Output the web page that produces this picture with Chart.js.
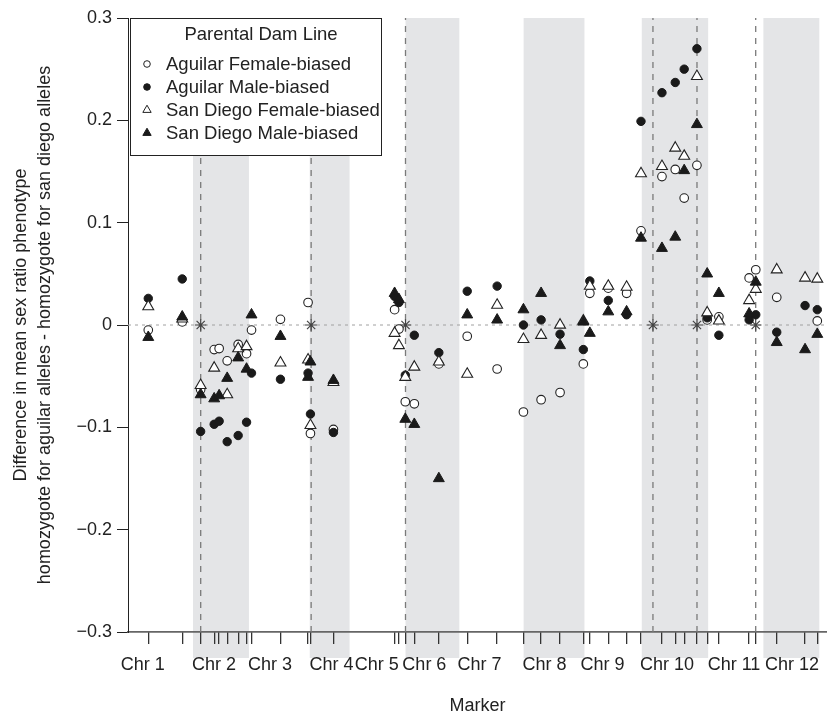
<!DOCTYPE html>
<html lang="en">
  <head>
    <meta charset="UTF-8" />
    <title>Sex ratio phenotype by marker</title>
    <script src="https://cdn.jsdelivr.net/npm/chart.js"></script>
    <style>
      body {
        margin: 0;
        padding: 0;
        background: #fff;
      }
      #chart {
        display: block;
      }
    </style>
  </head>
  <body>
    <canvas id="chart" width="827" height="717"></canvas>

    <script>
      // marker positions along the genome (map units, 0-100)
      const markerPos = [
        2.9, 7.76, 10.39, 12.33, 13.04, 14.19, 15.76, 16.96, 17.67, 21.81,
        25.76, 26.1, 29.39, 38.14, 38.76, 39.67, 40.96, 44.47, 48.53, 52.81,
        56.57, 59.1, 61.81, 65.14, 66.07, 68.71, 71.33, 73.39, 76.39, 78.29,
        79.57, 81.39, 82.86, 84.53, 88.86, 89.81, 92.81, 96.86, 98.61,
      ];

      // difference in mean sex ratio, one value per marker (null = not shown)
      const aguilarFemale = [
        -0.005, 0.003, -0.063, -0.024, -0.023, -0.035, -0.019, -0.028, -0.005, 0.0055,
        0.022, -0.106, -0.102, 0.015, -0.004, -0.075, -0.077, -0.038, -0.011, -0.043,
        -0.085, -0.073, -0.066, -0.038, 0.031, 0.036, 0.031, 0.092, 0.145, 0.152,
        0.124, 0.156, 0.005, 0.008, 0.046, 0.054, 0.027, null, 0.004,
      ];
      const aguilarMale = [
        0.026, 0.045, -0.104, -0.097, -0.094, -0.114, -0.108, -0.095, -0.047, -0.053,
        -0.047, -0.087, -0.105, 0.028, 0.022, -0.049, -0.01, -0.027, 0.033, 0.038,
        0.0, 0.005, -0.009, -0.024, 0.043, 0.024, 0.01, 0.199, 0.227, 0.237,
        0.25, 0.27, 0.007, -0.01, 0.005, 0.01, -0.007, 0.019, 0.015,
      ];
      const sanDiegoFemale = [
        0.018, 0.006, -0.059, -0.042, null, -0.068, -0.023, -0.021, null, -0.037,
        -0.034, -0.098, -0.056, -0.008, -0.02, -0.051, -0.041, -0.036, -0.048, 0.0195,
        -0.014, -0.01, 0.0, 0.004, 0.038, 0.038, 0.037, 0.148, 0.155, 0.173,
        0.165, 0.243, 0.012, 0.004, 0.024, 0.035, 0.054, 0.046, 0.045,
      ];
      const sanDiegoMale = [
        -0.012, 0.008, -0.068, -0.072, -0.069, -0.052, -0.032, -0.043, 0.01, -0.011,
        -0.051, -0.036, -0.054, 0.031, 0.025, -0.092, -0.097, -0.15, 0.01, 0.005,
        0.015, 0.031, -0.02, 0.003, -0.008, 0.013, 0.013, 0.085, 0.075, 0.086,
        0.151, 0.196, 0.05, 0.031, 0.011, 0.042, -0.017, -0.024, -0.009,
      ];

      // significant QTL positions (dashed lines, asterisks)
      const qtlPos = [10.4, 26.2, 39.7, 75.1, 81.4, 89.8];

      // chromosomes
      const chrLabels = [
        "Chr 1", "Chr 2", "Chr 3", "Chr 4", "Chr 5", "Chr 6",
        "Chr 7", "Chr 8", "Chr 9", "Chr 10", "Chr 11", "Chr 12",
      ];
      const chrCenters = [2.1, 12.3, 20.3, 29.1, 35.6, 42.4, 50.3, 59.6, 67.9, 77.1, 86.7, 95.0];
      const evenChrStart = [9.3, 26.0, 39.7, 56.6, 73.5, 90.9];
      const evenChrEnd = [17.3, 31.7, 47.4, 65.3, 83.0, 98.9];

      const xRange = [0, 100];
      const yTicks = [-0.3, -0.2, -0.1, 0, 0.1, 0.2, 0.3];
      const yTickLabels = ["\u22120.3", "\u22120.2", "\u22120.1", "0", "0.1", "0.2", "0.3"];

      const seriesNames = [
        "Aguilar Female-biased",
        "Aguilar Male-biased",
        "San Diego Female-biased",
        "San Diego Male-biased",
      ];

      const ink = "#222";
      Chart.defaults.font.family = '"Liberation Sans", Arial, sans-serif';
      Chart.defaults.font.size = 18;
      Chart.defaults.color = ink;

      function toPoints(vals) {
        return markerPos.map((x, i) => ({ x: x, y: vals[i] }));
      }

      // grey shading behind even chromosomes
      const shadePlugin = {
        id: "chrShade",
        beforeDraw(chart) {
          const { ctx, chartArea } = chart;
          const x = chart.scales.x;
          ctx.save();
          ctx.fillStyle = "#e4e5e7";
          evenChrStart.forEach((a, i) => {
            const x0 = x.getPixelForValue(a);
            const x1 = x.getPixelForValue(evenChrEnd[i]);
            ctx.fillRect(x0, chartArea.top, x1 - x0, chartArea.bottom - chartArea.top + 26);
          });
          ctx.restore();
        },
      };

      // boxed legend in the top left corner
      const legendPlugin = {
        id: "damLegend",
        afterDraw(chart) {
          const { ctx, chartArea } = chart;
          const left = chartArea.left + 2;
          const top = chartArea.top;
          ctx.save();
          ctx.fillStyle = "#fff";
          ctx.fillRect(left, top, 251, 137);
          ctx.strokeStyle = ink;
          ctx.lineWidth = 1;
          ctx.strokeRect(left + 0.5, top + 0.5, 251, 137);

          ctx.font = '18.5px "Liberation Sans", Arial, sans-serif';
          ctx.fillStyle = ink;
          ctx.textBaseline = "middle";
          ctx.textAlign = "center";
          ctx.fillText("Parental Dam Line", left + 131, top + 17);

          ctx.textAlign = "left";
          chart.data.datasets.slice(0, 4).forEach((ds, i) => {
            const y = top + 46 + i * 23;
            ctx.fillStyle = ds.backgroundColor;
            ctx.strokeStyle = ds.borderColor;
            ctx.lineWidth = 1;
            Chart.helpers.drawPoint(
              ctx,
              {
                pointStyle: ds.pointStyle,
                radius: ds.pointStyle === "triangle" ? 4.8 : 3.3,
                borderWidth: 1,
                rotation: 0,
              },
              left + 17,
              y
            );
            ctx.fillStyle = ink;
            ctx.fillText(ds.label, left + 36, y + 1);
          });
          ctx.restore();
        },
      };

      const qtlLines = qtlPos.map((q) => ({
        label: "",
        data: [
          { x: q, y: yTicks[0] },
          { x: q, y: yTicks[yTicks.length - 1] },
        ],
        showLine: true,
        borderColor: "#7a7a7a",
        borderWidth: 1.3,
        borderDash: [6, 6],
        pointRadius: 0,
        order: 6,
      }));

      const data = {
        datasets: [
          {
            label: seriesNames[0],
            data: toPoints(aguilarFemale),
            pointStyle: "circle",
            pointRadius: 4.3,
            backgroundColor: "#fff",
            borderColor: ink,
            borderWidth: 1.1,
            order: 4,
          },
          {
            label: seriesNames[1],
            data: toPoints(aguilarMale),
            pointStyle: "circle",
            pointRadius: 4.2,
            backgroundColor: "#1a1a1a",
            borderColor: "#1a1a1a",
            borderWidth: 1,
            order: 3,
          },
          {
            label: seriesNames[2],
            data: toPoints(sanDiegoFemale),
            pointStyle: "triangle",
            pointRadius: 6.3,
            backgroundColor: "#fff",
            borderColor: ink,
            borderWidth: 1.1,
            order: 2,
          },
          {
            label: seriesNames[3],
            data: toPoints(sanDiegoMale),
            pointStyle: "triangle",
            pointRadius: 6.3,
            backgroundColor: "#1a1a1a",
            borderColor: "#1a1a1a",
            borderWidth: 1,
            order: 1,
          },
          {
            label: "",
            data: qtlPos.map((q) => ({ x: q, y: 0 })),
            pointStyle: "star",
            pointRadius: 5.8,
            borderColor: "#444",
            borderWidth: 1.2,
            order: 5,
          },
          {
            label: "",
            data: [
              { x: xRange[0], y: 0 },
              { x: xRange[1], y: 0 },
            ],
            showLine: true,
            borderColor: "#a0a0a0",
            borderWidth: 1,
            borderDash: [3, 4],
            pointRadius: 0,
            order: 7,
          },
          ...qtlLines,
        ],
      };

      const config = {
        type: "scatter",
        data: data,
        plugins: [shadePlugin, legendPlugin],
        options: {
          responsive: false,
          animation: false,
          events: [],
          layout: {
            autoPadding: false,
            padding: { top: 18, right: 0, bottom: 0, left: 0 },
          },
          plugins: {
            legend: { display: false },
            tooltip: { enabled: false },
          },
          scales: {
            // marker tick marks
            xm: {
              type: "linear",
              position: "bottom",
              weight: 0,
              min: xRange[0],
              max: xRange[1],
              afterBuildTicks: (scale) => {
                scale.ticks = markerPos.map((v) => ({ value: v }));
              },
              afterFit: (scale) => {
                scale.height = 0;
              },
              ticks: { display: false, padding: 0 },
              grid: {
                drawOnChartArea: false,
                drawTicks: true,
                tickLength: 12,
                color: "#333",
                lineWidth: 1.3,
              },
              border: { display: false },
            },
            // chromosome labels and axis line
            x: {
              type: "linear",
              position: "bottom",
              weight: 1,
              min: xRange[0],
              max: xRange[1],
              afterBuildTicks: (scale) => {
                scale.ticks = chrCenters.map((v) => ({ value: v }));
              },
              afterFit: (scale) => {
                scale.height = 85;
              },
              ticks: {
                autoSkip: false,
                maxRotation: 0,
                padding: 0,
                callback: (v, i) => chrLabels[i],
              },
              // invisible tick marks only push the labels down
              grid: { display: false, drawTicks: true, tickLength: 22 },
              border: { display: true, color: "#666", width: 1.8 },
              title: {
                display: true,
                text: "Marker",
                padding: { top: 0, bottom: 0 },
              },
            },
            y: {
              type: "linear",
              position: "left",
              min: yTicks[0],
              max: yTicks[yTicks.length - 1],
              afterBuildTicks: (scale) => {
                scale.ticks = yTicks.map((v) => ({ value: v }));
              },
              afterFit: (scale) => {
                scale.width = 128;
              },
              ticks: {
                padding: 5,
                callback: (v, i) => yTickLabels[i],
              },
              grid: {
                drawOnChartArea: false,
                drawTicks: true,
                tickLength: 11,
                color: ink,
                lineWidth: 1,
              },
              border: { display: true, color: ink, width: 1 },
              title: {
                display: true,
                text: [
                  "Difference in mean sex ratio phenotype",
                  "homozygote for aguilar alleles - homozygote for san diego alleles",
                ],
                font: { size: 18, lineHeight: 1.28 },
                padding: { top: 10, bottom: 0 },
              },
            },
          },
        },
      };

      new Chart(document.getElementById("chart"), config);
    </script>
  </body>
</html>
